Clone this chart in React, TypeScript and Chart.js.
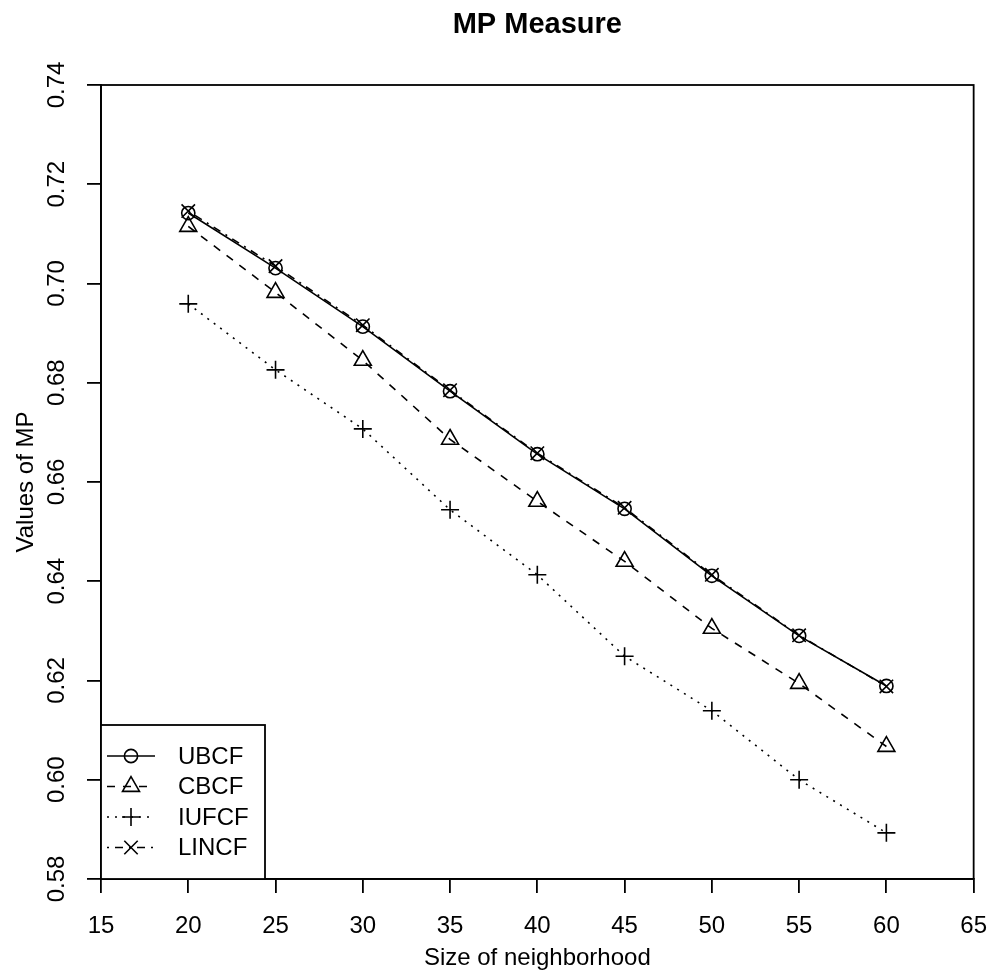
import React, { useEffect, useRef } from "react";
import { Chart, registerables } from "chart.js";

Chart.register(...registerables);

const neighborhoodSizes = [20, 25, 30, 35, 40, 45, 50, 55, 60];
const ubcfValues = [0.7142, 0.7031, 0.6913, 0.6783, 0.6656, 0.6546, 0.6411, 0.629, 0.6189];
const cbcfValues = [0.7115, 0.6982, 0.6845, 0.6686, 0.6561, 0.644, 0.6305, 0.6194, 0.6067];
const iufcfValues = [0.6959, 0.6826, 0.6707, 0.6544, 0.6413, 0.6249, 0.6139, 0.6, 0.5893];
const lincfValues = [0.7146, 0.7035, 0.6916, 0.6785, 0.6658, 0.6548, 0.6413, 0.6291, 0.6188];
const seriesNames = ["UBCF", "CBCF", "IUFCF", "LINCF"];
const xTickLabels = [15, 20, 25, 30, 35, 40, 45, 50, 55, 60, 65];
const yTickLabels = ["0.58", "0.60", "0.62", "0.64", "0.66", "0.68", "0.70", "0.72", "0.74"];
const chartTitle = "MP Measure";
const xAxisTitle = "Size of neighborhood";
const yAxisTitle = "Values of MP";

const FONT = "'Liberation Sans', Arial, Helvetica, sans-serif";
const LW = 1.8;
const DLW = 1.6;

type Marker = "circle" | "triangle" | "plus" | "cross";
const markers: Marker[] = ["circle", "triangle", "plus", "cross"];
const dashes: number[][] = [[], [8, 8], [2, 6], [2, 6, 8, 6]];

function drawMarker(ctx: CanvasRenderingContext2D, m: Marker, x: number, y: number) {
  ctx.beginPath();
  if (m === "circle") {
    ctx.arc(x, y, 6.6, 0, Math.PI * 2);
  } else if (m === "triangle") {
    const r = 9.8;
    for (let i = 0; i < 3; i++) {
      const a = (i * 2 * Math.PI) / 3;
      const px = x + Math.sin(a) * r;
      const py = y - Math.cos(a) * r;
      if (i === 0) ctx.moveTo(px, py);
      else ctx.lineTo(px, py);
    }
    ctx.closePath();
  } else if (m === "plus") {
    ctx.moveTo(x - 9, y);
    ctx.lineTo(x + 9, y);
    ctx.moveTo(x, y - 9);
    ctx.lineTo(x, y + 9);
  } else {
    const h = 6.7;
    ctx.moveTo(x - h, y - h);
    ctx.lineTo(x + h, y + h);
    ctx.moveTo(x - h, y + h);
    ctx.lineTo(x + h, y - h);
  }
  ctx.stroke();
}

const decorPlugin = {
  id: "rDecor",
  afterDraw(chart: any) {
    const { ctx, chartArea: a, scales } = chart;
    ctx.save();
    ctx.strokeStyle = "#000";
    ctx.fillStyle = "#000";
    ctx.lineWidth = LW;
    ctx.setLineDash([]);
    // plot box
    ctx.strokeRect(a.left, a.top, a.right - a.left, a.bottom - a.top);

    // y tick labels (vertical, R style)
    ctx.font = `24px ${FONT}`;
    ctx.textAlign = "center";
    ctx.textBaseline = "alphabetic";
    scales.y.ticks.forEach((t: any, i: number) => {
      const py = scales.y.getPixelForValue(t.value);
      ctx.save();
      ctx.translate(64, py);
      ctx.rotate(-Math.PI / 2);
      ctx.fillText(yTickLabels[i] ?? t.value.toFixed(2), 0, 0);
      ctx.restore();
    });

    const cx = (a.left + a.right) / 2;
    const cy = (a.top + a.bottom) / 2;
    // title
    ctx.font = `bold 29px ${FONT}`;
    ctx.fillText(chartTitle, cx, 33);
    // x title
    ctx.font = `24px ${FONT}`;
    ctx.fillText(xAxisTitle, cx, 965);
    // y title
    ctx.save();
    ctx.translate(33, cy);
    ctx.rotate(-Math.PI / 2);
    ctx.fillText(yAxisTitle, 0, 0);
    ctx.restore();

    // legend
    const lx0 = a.left;
    const lx1 = 265;
    const ly0 = 725;
    const ly1 = a.bottom;
    ctx.fillStyle = "#fff";
    ctx.fillRect(lx0, ly0, lx1 - lx0, ly1 - ly0);
    ctx.fillStyle = "#000";
    ctx.strokeRect(lx0, ly0, lx1 - lx0, ly1 - ly0);
    ctx.textAlign = "left";
    ctx.textBaseline = "middle";
    ctx.lineWidth = DLW;
    seriesNames.forEach((name, i) => {
      const y = 756 + i * 30.5;
      ctx.setLineDash(dashes[i]);
      ctx.beginPath();
      ctx.moveTo(107, y);
      ctx.lineTo(155, y);
      ctx.stroke();
      ctx.setLineDash([]);
      drawMarker(ctx, markers[i], 131, y);
      ctx.fillText(name, 178, y + 1);
    });
    ctx.restore();
  },
};

export default function App() {
  const ref = useRef<HTMLCanvasElement | null>(null);
  useEffect(() => {
    if (!ref.current) return;
    const seriesValues = [ubcfValues, cbcfValues, iufcfValues, lincfValues];
    const pointStyles = ["circle", "triangle", "cross", "crossRot"];
    const pointRadii = [6.6, 9.8, 9, 9.5];
    const chart = new Chart(ref.current, {
      type: "line",
      data: {
        datasets: seriesNames.map((name, i) => ({
          label: name,
          data: neighborhoodSizes.map((x, j) => ({ x, y: seriesValues[i][j] })),
          borderColor: "#000",
          backgroundColor: "transparent",
          borderWidth: DLW,
          borderDash: dashes[i],
          pointStyle: pointStyles[i] as any,
          pointRadius: pointRadii[i],
          pointBorderColor: "#000",
          pointBackgroundColor: "transparent",
          pointBorderWidth: DLW,
          tension: 0,
          fill: false,
        })),
      },
      options: {
        animation: false,
        responsive: false,
        devicePixelRatio: 1,
        layout: { padding: { left: 0, right: 19, top: 85, bottom: 0 } },
        plugins: {
          legend: { display: false },
          title: { display: false },
          tooltip: { enabled: false },
        },
        scales: {
          x: {
            type: "linear",
            min: xTickLabels[0],
            max: xTickLabels[xTickLabels.length - 1],
            afterFit: (s: any) => {
              s.height = 95;
            },
            ticks: {
              stepSize: 5,
              color: "#000",
              font: { family: FONT, size: 24 },
              padding: 19,
              maxRotation: 0,
              autoSkip: false,
            },
            grid: { drawOnChartArea: false, tickLength: 14, color: "#000", lineWidth: LW },
            border: { display: true, color: "#000", width: LW },
          },
          y: {
            type: "linear",
            min: parseFloat(yTickLabels[0]),
            max: parseFloat(yTickLabels[yTickLabels.length - 1]),
            afterFit: (s: any) => {
              s.width = 101;
            },
            ticks: { stepSize: 0.02, display: false },
            grid: { drawOnChartArea: false, tickLength: 14, color: "#000", lineWidth: LW },
            border: { display: true, color: "#000", width: LW },
          },
        },
      },
      plugins: [decorPlugin],
    });
    return () => chart.destroy();
  }, []);
  return (
    <div style={{ position: "absolute", left: 0, top: 0, width: 1006, height: 974, background: "#fff" }}>
      <canvas ref={ref} width={1006} height={974} />
    </div>
  );
}
